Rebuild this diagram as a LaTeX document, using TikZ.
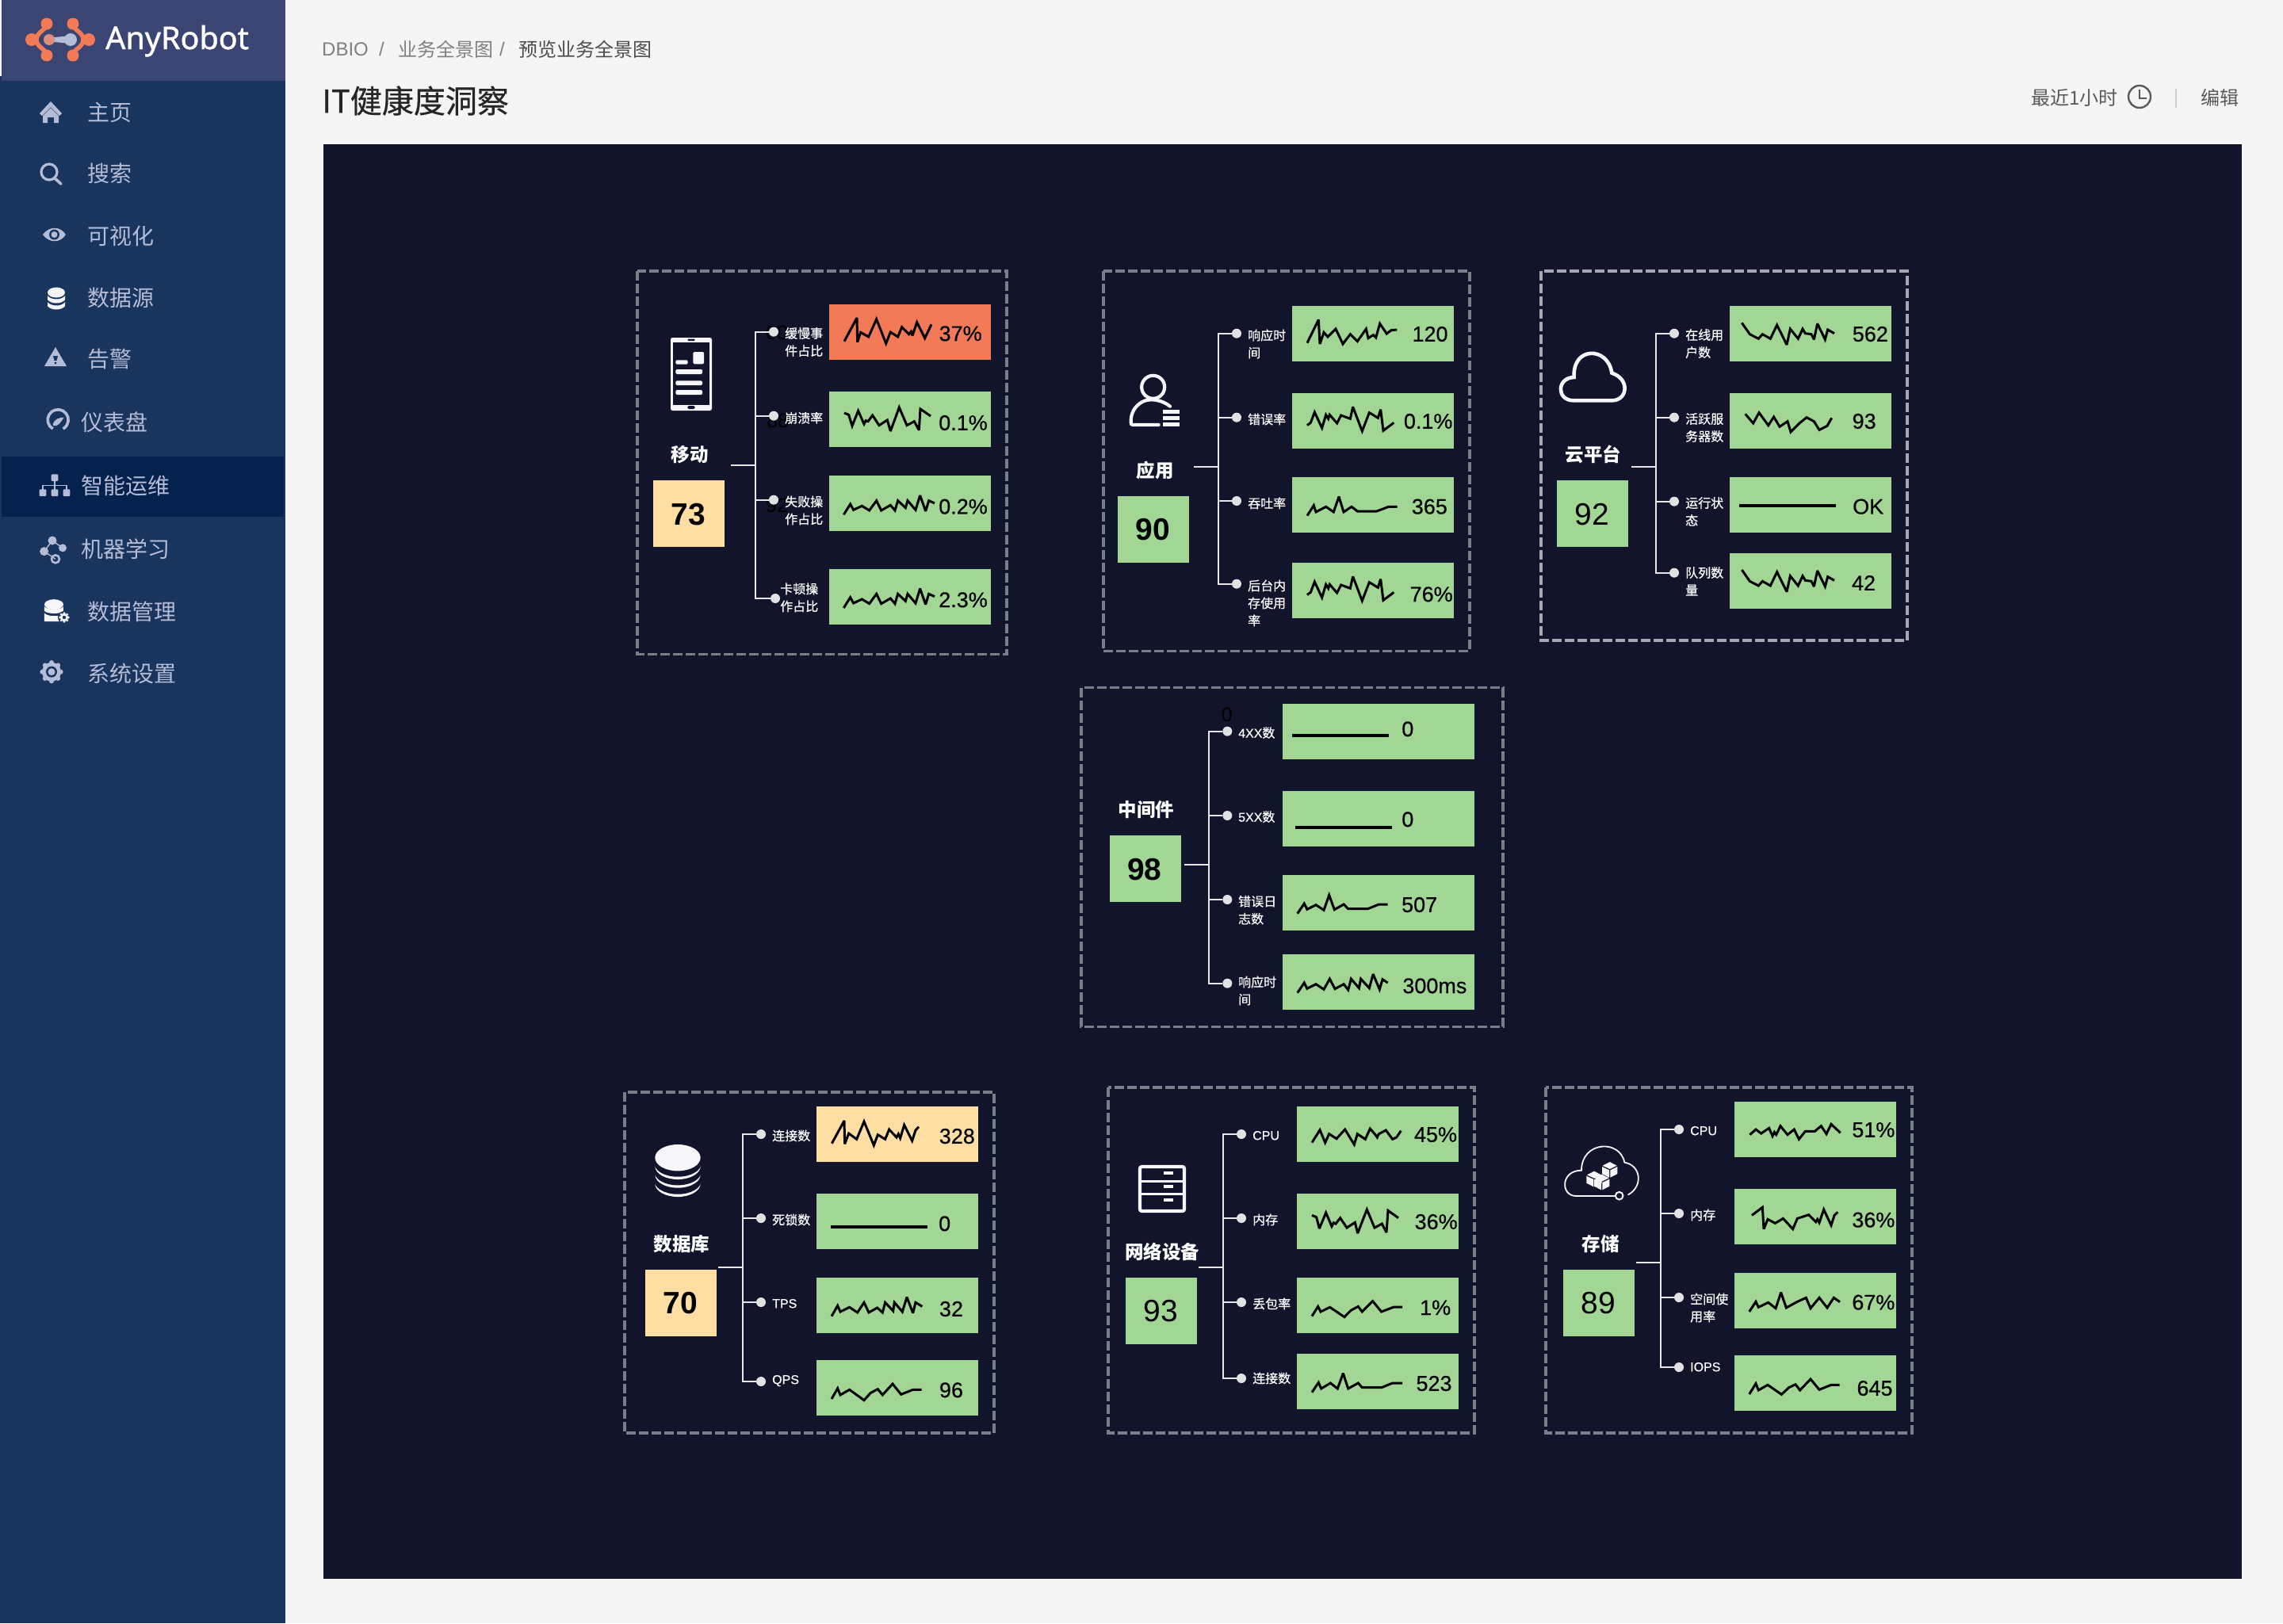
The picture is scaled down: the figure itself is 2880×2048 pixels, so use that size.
\documentclass[tikz,border=0pt]{standalone}
\usepackage{fontspec}
\setmainfont{Liberation Sans}
\newfontfamily\cjk{Noto Sans CJK SC}
\newfontfamily\cjkm[FakeBold=0.5]{Noto Sans CJK SC}
\newfontfamily\valfont[FakeBold=0.4]{Liberation Sans}
\newfontfamily\logofont[FakeBold=1.2]{Noto Sans}
\definecolor{pagebg}{HTML}{F5F5F5}
\definecolor{side}{HTML}{19345D}
\definecolor{sidehead}{HTML}{3A4573}
\definecolor{sideact}{HTML}{05214E}
\definecolor{sidetxt}{HTML}{B5BCD6}
\definecolor{panelbg}{HTML}{11142B}
\definecolor{cg}{HTML}{A2D695}
\definecolor{co}{HTML}{F27A56}
\definecolor{cy}{HTML}{FFDEA3}
\definecolor{dashc}{HTML}{7A7D8A}
\definecolor{dashl}{HTML}{A5A7B5}
\definecolor{dotc}{HTML}{E2E2E2}
\definecolor{treec}{HTML}{E8E8E8}
\definecolor{iconw}{HTML}{F6F6F8}
\tikzset{
  zoomed/.style={shift={(#1)},x=0.33333pt,y=-0.33333pt},
  dashbox/.style={draw=dashc,line width=3.4pt,dash pattern=on 12pt off 4pt},
  cellbox/.style={anchor=north west,inner sep=0pt,minimum height=70pt,text width=0pt},
  scorebox/.style={anchor=north west,inner sep=0pt,minimum width=90pt,minimum height=84pt},
  valtxt/.style={inner sep=0pt,yshift=-1.5pt,font=\fontsize{27}{27}\selectfont\valfont,text=black},
  scoretxt/.style={inner sep=0pt,yshift=-1pt,font=\fontsize{39}{39}\selectfont,text=black},
  ghost/.style={inner sep=0pt,font=\fontsize{25}{25}\selectfont,text=black},
  titletxt/.style={inner sep=0pt,text=white,font=\fontsize{23.5}{26}\selectfont\cjk\bfseries},
  lbl/.style={anchor=north west,inner sep=0pt,text=white,yshift=7pt,align=left,font=\fontsize{16}{22}\selectfont\cjkm},
  dotn/.style={circle,fill=dotc,inner sep=0pt,minimum size=12pt},
  tree/.style={draw=treec,line width=2pt},
  spk/.style={draw=black,line width=3pt,line join=miter,miter limit=3},
  flatspk/.style={draw=black,line width=3.6pt},
  sideitem/.style={anchor=west,inner sep=0pt,text=sidetxt,font=\fontsize{28}{30}\selectfont\cjk},
  crumb/.style={anchor=west,inner sep=0pt,font=\fontsize{24}{26}\selectfont\cjk},
  iconline/.style={draw=iconw,line width=4.2pt},
}
% #1 width, #2 id, #3 x, #4 y, #5 colour, #6 value, #7 vx, #8 vy
\newcommand\vcell[8][204pt]{%
  \node[cellbox,fill=#5,minimum width=#1] (#2) at (#3,#4) {};
  \node[valtxt] (#2v) at (#7,#8) {#6};}
\newcommand\score[7]{% id x y colour text cx cy
  \node[scorebox,fill=#4] (#1) at (#2,#3) {};
  \node[scoretxt] (#1v) at (#6,#7) {#5};}
\newcommand\leaf[4]{% id x y junction
  \node[dotn] (#1) at (#2,#3) {};
  \draw[tree] (#1) -| (#4);}
\newcommand\lab[4]{\node[lbl] (#1) at (#2,#3) {\rule{0pt}{13pt}#4};}
\newcommand\la[1]{{\valfont #1}}
\newcommand\spk[1]{\draw[spk] plot[sharp plot] coordinates {#1};}
\newcommand\flatline[2]{\draw[flatspk] (#1) -- (#2);}
\newcommand\stub[4]{% name stubx y trunkx
  \coordinate (#1s) at (#2,#3);
  \coordinate (#1) at (#4,#3);
  \draw[tree] (#1s) -- (#1);}
\newcommand\cube[2]{% cx cy, in zoomed units
  \fill[iconw] (#1,#2-27) -- (#1+27,#2-13) -- (#1,#2) -- (#1-27,#2-13) -- cycle;
  \fill[iconw] (#1-29,#2-9) -- (#1-2,#2+4) -- (#1-2,#2+32) -- (#1-29,#2+18) -- cycle;
  \fill[iconw] (#1+29,#2-9) -- (#1+2,#2+4) -- (#1+2,#2+32) -- (#1+29,#2+18) -- cycle;}
\begin{document}
\begin{tikzpicture}[x=1pt,y=-1pt]
\useasboundingbox (0,0) rectangle (2880,2048);
\fill[pagebg] (0,0) rectangle (2880,2048);
% sidebar
\fill[side] (0,96) rectangle (360,2048);
\fill[sidehead] (2,0) rectangle (360,102);
\fill[sideact] (2,576) rectangle (358,652);
% logo
\draw[co,line width=5.5pt] (59,30) .. controls (59,38) and (46,40) .. (46,50) .. controls (46,60) and (59,62) .. (59,70);
\draw[co,line width=5.5pt] (92,30) .. controls (92,38) and (105,40) .. (105,50) .. controls (105,60) and (92,62) .. (92,70);
\foreach \px/\py/\pr in {59/30/7.5,40/50/8,59/70/7.5,92/30/7.5,112/50/8,92/70/7.5} \fill[co] (\px,\py) circle (\pr pt);
\fill[sidetxt] (64,47.5) -- (84,45.5) -- (84,54.5) -- (64,52.5) -- cycle;
\fill[co!70!sidetxt] (62,50) circle (7pt);
\fill[sidetxt] (89,50) circle (8pt);
\node[anchor=base west,inner sep=0pt,text=white,font=\fontsize{39.5}{40}\selectfont\logofont] (logotxt) at (133,62) {AnyRobot};
% sidebar items
\node[sideitem] (m1) at (110,142) {主页};
\node[sideitem] (m2) at (110,219) {搜索};
\node[sideitem] (m3) at (110,298) {可视化};
\node[sideitem] (m4) at (110,376) {数据源};
\node[sideitem] (m5) at (110,453) {告警};
\node[sideitem] (m6) at (102,533) {仪表盘};
\node[sideitem] (m7) at (102,613) {智能运维};
\node[sideitem] (m8) at (102,693) {机器学习};
\node[sideitem] (m9) at (110,772) {数据管理};
\node[sideitem] (m10) at (110,850) {系统设置};
% sidebar icons
\fill[sidetxt] (64,128) -- (78,143) -- (75,146) -- (64,135) -- (53,146) -- (50,143) -- cycle;
\fill[sidetxt] (54,146) -- (64,136) -- (74,146) -- (74,155) -- (68,155) -- (68,148) -- (60,148) -- (60,155) -- (54,155) -- cycle;
\draw[sidetxt,line width=3.2pt] (62,217) circle (10pt);
\draw[sidetxt,line width=3.6pt,line cap=round] (69,225) -- (77,232);
\fill[sidetxt] (54,296) .. controls (62,285) and (76,285) .. (83,296) .. controls (76,307) and (62,307) .. (54,296) -- cycle;
\fill[side] (68.5,296) circle (6.5pt);
\fill[sidetxt] (68.5,296) circle (4pt);
\fill[iconw] (71,369) ellipse (11pt and 6.5pt);
\fill[iconw] (60,373) .. controls (64,379) and (78,379) .. (82,373) -- (82,378) .. controls (78,384) and (64,384) .. (60,378) -- cycle;
\fill[iconw] (60,381) .. controls (64,387) and (78,387) .. (82,381) -- (82,386) .. controls (78,392) and (64,392) .. (60,386) -- cycle;
\fill[sidetxt] (70,438) -- (84,462) -- (56,462) -- cycle;
\fill[side] (67,449) -- (73,449) -- (71.5,455) -- (68.5,455) -- cycle;
\fill[side] (70,458) circle (1.6pt);
\begin{scope}[zoomed={0,480}]
\draw[sidetxt,line width=3.6pt] (200,183) arc[start angle=120,end angle=420,radius=39];
\fill[sidetxt] (200,168) .. controls (205,145) and (225,140) .. (242,140) .. controls (235,150) and (228,165) .. (212,172) .. controls (205,173) and (200,170) .. (200,168) -- cycle;
% org chart
\draw[sidetxt,line width=1.6pt] (207,368) -- (207,425) (162,425) -- (162,397) -- (252,397) -- (252,425);
\foreach \qx/\qy in {207/368,162/425,207/425,252/425}
  \fill[sidetxt,rounded corners=1pt] (\qx-13,\qy-13) rectangle (\qx+13,\qy+13);
% ml
\draw[sidetxt,line width=1.4pt] (198,606) -- (237,634) (198,606) -- (167,647) -- (210,676);
\fill[sidetxt] (198,606) circle (5.5pt);
\fill[sidetxt] (237,634) circle (5pt);
\fill[sidetxt] (167,647) circle (5.5pt);
\draw[sidetxt,line width=2.6pt] (210,676) circle (5pt);
% data mgmt
\fill[iconw] (204,848) ellipse (12pt and 6.5pt);
\fill[iconw] (168,855) .. controls (175,870) and (235,870) .. (240,855) -- (240,872) .. controls (235,885) and (175,885) .. (168,872) -- cycle;
\fill[iconw] (168,880) .. controls (175,893) and (215,893) .. (228,890) -- (225,912) -- (168,912) -- cycle;
\fill[side] (243,897) circle (8pt);
\foreach \a in {0,45,...,315} \fill[iconw] (243,897) ++(\a:16) circle (1.6pt);
\fill[iconw] (243,897) circle (5.2pt);
\fill[side] (243,897) circle (2.2pt);
% gear
\foreach \a in {0,45,...,315} \fill[sidetxt] (195,1103) ++(\a:35) circle (3pt);
\fill[sidetxt] (195,1103) circle (12pt);
\fill[side] (195,1103) circle (7pt);
\fill[sidetxt] (195,1103) circle (4.5pt);
\end{scope}
% header
\node[crumb,text=black!50,font=\fontsize{24}{26}\selectfont] (c0) at (406,62) {DBIO};
\node[crumb,text=black!50,font=\fontsize{24}{26}\selectfont] (c1) at (478,62) {/};
\node[crumb,text=black!50] (c2) at (502,62) {业务全景图};
\node[crumb,text=black!50,font=\fontsize{24}{26}\selectfont] (c3) at (630,62) {/};
\node[crumb,text=black!70] (c4) at (654,62) {预览业务全景图};
\node[crumb,text=black!85,font=\fontsize{40}{44}\selectfont\cjkm] (ttl) at (406,127) {IT健康度洞察};
\node[crumb,text=black!65] (t1) at (2562,123) {最近1小时};
\draw[black!65,line width=2.4pt] (2699,122) circle (14pt);
\draw[black!65,line width=2.2pt] (2699,113) -- (2699,124) -- (2708,124);
\draw[blue!20!black!20,line width=1.2pt] (2745,112) -- (2745,136);
\node[crumb,text=black!65] (t2) at (2776,123) {编辑};
% main panel
\fill[panelbg] (408,182) rectangle (2828,1992);

% ---------- 移动
\begin{scope}[zoomed={780,320}]
\draw[dashbox] (72,66) rectangle (1470,1516);
\fill[iconw,rounded corners=2.5pt] (198,318) rectangle (354,594);
\fill[panelbg] (208,336) rectangle (344,572);
\fill[panelbg,rounded corners=1pt] (262,323) rectangle (290,330);
\fill[panelbg,rounded corners=1.5pt] (262,576) rectangle (290,588);
\fill[iconw,rounded corners=1.5pt] (283,372) rectangle (324,418);
\foreach \ya/\xb/\yb in {403/263/419,438/318/456,481/318/498,516/318/534}
  \fill[iconw,rounded corners=1.5pt] (217,\ya) rectangle (\xb,\yb);
\node[titletxt] (mobt) at (270,760) {移动};
\score{mobs}{132}{858}{cy}{\textbf{73}}{265}{985}
\stub{mobj}{426}{800}{518}
\node[ghost] (mobg1) at (600,300) {00};
\node[ghost] (mobg2) at (603,632) {88};
\node[ghost] (mobg3) at (600,955) {92};
\leaf{mob1}{588}{296}{mobj}
\leaf{mob2}{588}{614}{mobj}
\leaf{mob3}{588}{932}{mobj}
\leaf{mob4}{594}{1305}{mobj}
\lab{mobl1}{630}{300}{缓慢事\\件占比}
\lab{mobl2}{630}{620}{崩溃率}
\lab{mobl3}{630}{937}{失败操\\作占比}
\lab{mobl4}{612}{1267}{卡顿操\\作占比}
\vcell{mobc1}{798}{192}{co}{37\%}{1295}{298}
\vcell{mobc2}{798}{522}{cg}{0.1\%}{1305}{636}
\vcell{mobc3}{798}{840}{cg}{0.2\%}{1305}{953}
\vcell{mobc4}{798}{1194}{cg}{2.3\%}{1305}{1306}
\spk{(855,332)(903,243)(905,335)(917,298)(947,315)(977,248)(1013,340)(1030,297)(1058,315)(1073,278)(1100,305)(1108,295)(1113,310)(1130,260)(1160,320)(1185,268)}
\spk{(855,603)(872,610)(885,652)(908,595)(930,645)(937,632)(945,635)(962,612)(987,650)(1018,630)(1030,672)(1063,582)(1092,650)(1120,635)(1138,668)(1143,588)(1182,615)}
\spk{(853,988)(878,948)(890,970)(922,955)(950,972)(977,935)(995,972)(1030,952)(1047,972)(1058,935)(1087,962)(1095,935)(1125,970)(1142,915)(1163,975)(1175,935)(1197,945)}
\spk{(853,1341)(878,1301)(890,1323)(922,1308)(950,1325)(977,1288)(995,1325)(1030,1305)(1047,1325)(1058,1288)(1087,1315)(1095,1288)(1125,1323)(1142,1268)(1163,1328)(1175,1288)(1197,1298)}
\end{scope}

% ---------- 应用
\begin{scope}[zoomed={1370,320}]
\draw[dashbox] (66,66) rectangle (1452,1505);
\draw[iconline] (254,505) circle (14.5pt);
\draw[iconline,line cap=round] (318,578) .. controls (290,555) and (245,545) .. (215,560) .. controls (185,575) and (168,605) .. (170,640) .. controls (170,645) and (172,648) .. (178,648) -- (275,648);
\foreach \ya in {590,614,638} \fill[iconw] (292,\ya) rectangle (354,\ya+15);
\node[titletxt] (appt) at (262,820) {应用};
\score{apps}{120}{918}{cg}{\textbf{90}}{252}{1042}
\stub{appj}{408}{806}{500}
\leaf{app1}{570}{302}{appj}
\leaf{app2}{570}{620}{appj}
\leaf{app3}{570}{936}{appj}
\leaf{app4}{570}{1250}{appj}
\lab{appl1}{612}{307}{响应时\\间}
\lab{appl2}{612}{625}{错误率}
\lab{appl3}{612}{943}{吞吐率}
\lab{appl4}{612}{1255}{后台内\\存使用\\率}
\vcell{appc1}{780}{198}{cg}{120}{1302}{300}
\vcell{appc2}{780}{528}{cg}{0.1\%}{1295}{630}
\vcell{appc3}{780}{846}{cg}{365}{1300}{953}
\vcell{appc4}{780}{1170}{cg}{76\%}{1307}{1285}
\spk{(837,338)(880,250)(885,342)(900,298)(915,315)(945,285)(972,342)(1000,305)(1027,332)(1060,285)(1068,320)(1087,308)(1097,318)(1112,265)(1138,303)(1155,290)(1177,288)}
\spk{(837,650)(850,640)(865,600)(893,660)(908,610)(917,625)(922,610)(950,642)(965,612)(1000,625)(1010,580)(1045,672)(1072,602)(1105,622)(1115,590)(1125,670)(1165,640)}
\spk{(837,992)(862,953)(870,978)(908,958)(937,978)(957,920)(975,978)(1005,958)(1027,975)(1100,975)(1145,958)(1178,958)}
\spk{(837,1292)(850,1282)(865,1242)(893,1302)(908,1252)(917,1267)(922,1252)(950,1284)(965,1254)(1000,1267)(1010,1222)(1045,1314)(1072,1244)(1105,1264)(1115,1232)(1125,1312)(1165,1282)}
\end{scope}

% ---------- 云平台
\begin{scope}[zoomed={1920,320}]
\draw[dashbox,draw=dashl] (72,66) rectangle (1458,1464);
\draw[iconline,line width=4.6pt] (195,556) .. controls (130,556) and (130,470) .. (197,468) .. controls (190,350) and (325,350) .. (340,452) .. controls (410,475) and (400,556) .. (340,556) -- cycle;
\node[titletxt] (clot) at (270,760) {云平台};
\score{clos}{132}{858}{cg}{92}{264}{985}
\stub{cloj}{414}{806}{508}
\leaf{clo1}{576}{302}{cloj}
\leaf{clo2}{576}{620}{cloj}
\leaf{clo3}{576}{938}{cloj}
\leaf{clo4}{576}{1208}{cloj}
\lab{clol1}{618}{306}{在线用\\户数}
\lab{clol2}{618}{624}{活跃服\\务器数}
\lab{clol3}{618}{942}{运行状\\态}
\lab{clol4}{618}{1206}{队列数\\量}
\vcell{cloc1}{786}{198}{cg}{562}{1318}{300}
\vcell{cloc2}{786}{528}{cg}{93}{1295}{630}
\vcell{cloc3}{786}{846}{cg}{OK}{1310}{953}
\vcell{cloc4}{786}{1134}{cg}{42}{1293}{1242}
\spk{(832,262)(862,305)(895,322)(910,305)(940,322)(965,270)(1002,345)(1015,285)(1045,322)(1062,285)(1072,302)(1095,305)(1105,325)(1118,265)(1147,325)(1157,288)(1182,302)}
\spk{(845,607)(875,642)(897,602)(932,650)(953,618)(975,655)(1005,635)(1017,675)(1050,642)(1077,620)(1105,635)(1125,667)(1155,652)(1172,622)}
\flatline{822,954}{1188,954}
\spk{(832,1197)(862,1240)(895,1257)(910,1240)(940,1257)(965,1205)(1002,1280)(1015,1220)(1045,1257)(1062,1220)(1072,1237)(1095,1240)(1105,1260)(1118,1200)(1147,1260)(1157,1223)(1182,1237)}
\end{scope}

% ---------- 中间件
\begin{scope}[shift={(1340,850)},x=0.36996pt,y=-0.33333pt]
\draw[dashbox] (65,53) rectangle (1503,1337);
\node[titletxt] (mwt) at (287,515) {中间件};
\score{mws}{162}{612}{cg}{\textbf{98}}{281}{738}
\stub{mwj}{415}{722}{499}
\node[ghost] (mwg) at (562,157) {0};
\leaf{mw1}{563}{218}{mwj}
\leaf{mw2}{563}{537}{mwj}
\leaf{mw3}{563}{855}{mwj}
\leaf{mw4}{563}{1172}{mwj}
\lab{mwl1}{600}{222}{\la{4XX}数}
\lab{mwl2}{600}{540}{\la{5XX}数}
\lab{mwl3}{600}{860}{错误日\\志数}
\lab{mwl4}{600}{1165}{响应时\\间}
\vcell[242pt]{mwc1}{752}{114}{cg}{0}{1178}{205}
\vcell[242pt]{mwc2}{752}{444}{cg}{0}{1178}{547}
\vcell[242pt]{mwc3}{752}{762}{cg}{507}{1218}{870}
\vcell[242pt]{mwc4}{752}{1062}{cg}{300ms}{1270}{1177}
\flatline{784,234}{1114,234}
\flatline{795,582}{1125,582}
\spk{(802,908)(825,870)(835,892)(865,875)(892,895)(910,838)(928,893)(960,873)(975,890)(1042,890)(1080,873)(1110,873)}
\spk{(802,1208)(825,1170)(835,1192)(865,1175)(892,1195)(912,1155)(930,1193)(960,1175)(975,1197)(985,1155)(1012,1190)(1018,1155)(1047,1190)(1060,1137)(1082,1195)(1092,1157)(1110,1170)}
\end{scope}

% ---------- 数据库
\begin{scope}[zoomed={770,1360}]
\draw[dashbox] (54,54) rectangle (1452,1344);
\foreach \yc in {400,366,334} {
  \fill[iconw] (255,\yc) ellipse (28.7pt and 16.7pt);
  \fill[panelbg] (255,\yc-10) ellipse (29.5pt and 16.7pt);
}
\fill[iconw] (255,302) ellipse (28.7pt and 16.7pt);
\node[titletxt] (dbt) at (270,628) {数据库};
\score{dbs}{132}{726}{cy}{\textbf{70}}{264}{850}
\stub{dbj}{408}{717}{500}
\leaf{db1}{570}{213}{dbj}
\leaf{db2}{570}{531}{dbj}
\leaf{db3}{570}{849}{dbj}
\leaf{db4}{570}{1149}{dbj}
\lab{dbl1}{612}{217}{连接数}
\lab{dbl2}{612}{535}{死锁数}
\lab{dbl3}{612}{852}{\la{TPS}}
\lab{dbl4}{612}{1140}{\la{QPS}}
\vcell{dbc1}{780}{108}{cy}{328}{1312}{216}
\vcell{dbc2}{780}{438}{cg}{0}{1265}{547}
\vcell{dbc3}{780}{756}{cg}{32}{1290}{870}
\vcell{dbc4}{780}{1068}{cg}{96}{1290}{1177}
\spk{(838,248)(885,162)(887,250)(902,210)(932,232)(960,165)(997,255)(1012,215)(1040,232)(1055,195)(1083,225)(1090,212)(1097,228)(1112,178)(1142,238)(1155,198)(1167,185)}
\flatline{834,564}{1200,564}
\spk{(837,902)(860,862)(870,885)(905,868)(935,888)(960,850)(978,888)(1010,870)(1030,888)(1040,850)(1070,882)(1075,850)(1105,885)(1122,830)(1145,890)(1155,850)(1180,865)}
\spk{(837,1215)(860,1175)(870,1200)(905,1180)(960,1220)(985,1192)(1012,1178)(1030,1200)(1068,1158)(1100,1198)(1145,1180)(1178,1180)}
\end{scope}

% ---------- 网络设备
\begin{scope}[zoomed={1380,1360}]
\draw[dashbox] (54,36) rectangle (1440,1344);
\draw[iconline,rounded corners=2.5pt] (174,336) rectangle (342,504);
\draw[iconw,line width=3pt] (174,392) -- (342,392) (174,440) -- (342,440);
\foreach \ya in {355,405,455} \fill[iconw] (265,\ya) rectangle (300,\ya+12);
\node[titletxt] (nett) at (258,658) {网络设备};
\score{nets}{120}{756}{cg}{93}{252}{880}
\stub{netj}{396}{717}{488}
\leaf{net1}{558}{213}{netj}
\leaf{net2}{558}{531}{netj}
\leaf{net3}{558}{849}{netj}
\leaf{net4}{558}{1137}{netj}
\lab{netl1}{600}{216}{\la{CPU}}
\lab{netl2}{600}{535}{内存}
\lab{netl3}{600}{853}{丢包率}
\lab{netl4}{600}{1135}{连接数}
\vcell{netc1}{768}{108}{cg}{45\%}{1293}{210}
\vcell{netc2}{768}{438}{cg}{36\%}{1295}{540}
\vcell{netc3}{768}{756}{cg}{1\%}{1292}{865}
\vcell{netc4}{768}{1044}{cg}{523}{1287}{1152}
\spk{(825,245)(855,197)(875,245)(890,212)(918,230)(950,195)(985,252)(997,212)(1027,232)(1045,192)(1065,215)(1072,225)(1078,212)(1105,198)(1130,232)(1145,225)(1162,200)}
\spk{(825,520)(842,527)(853,570)(878,510)(900,562)(907,548)(915,552)(932,530)(957,567)(988,547)(998,588)(1033,498)(1062,567)(1090,552)(1107,585)(1113,502)(1152,530)}
\spk{(825,902)(848,865)(858,885)(893,868)(948,905)(972,880)(1000,865)(1015,885)(1055,845)(1088,885)(1135,867)(1167,867)}
\spk{(825,1190)(850,1153)(860,1176)(895,1155)(922,1176)(943,1118)(962,1176)(1000,1155)(1015,1172)(1088,1172)(1130,1155)(1167,1155)}
\end{scope}

% ---------- 存储
\begin{scope}[zoomed={1930,1360}]
\draw[dashbox] (60,36) rectangle (1446,1344);
\draw[iconw,line width=1.8pt,line cap=round] (320,447) -- (175,447) .. controls (115,447) and (115,350) .. (195,350) .. controls (195,240) and (340,230) .. (358,320) .. controls (420,330) and (430,410) .. (372,442);
\draw[iconw,line width=2pt] (338,446) circle (4.8pt);
\cube{302}{345}
\cube{243}{380}
\cube{272}{392}
\node[titletxt] (stot) at (268,628) {存储};
\score{stos}{126}{726}{cg}{89}{258}{850}
\stub{stoj}{402}{699}{494}
\leaf{sto1}{564}{195}{stoj}
\leaf{sto2}{564}{513}{stoj}
\leaf{sto3}{564}{831}{stoj}
\leaf{sto4}{564}{1095}{stoj}
\lab{stol1}{606}{198}{\la{CPU}}
\lab{stol2}{606}{517}{内存}
\lab{stol3}{606}{835}{空间使\\用率}
\lab{stol4}{606}{1092}{\la{IOPS}}
\vcell{stoc1}{774}{90}{cg}{51\%}{1300}{192}
\vcell{stoc2}{774}{420}{cg}{36\%}{1300}{533}
\vcell{stoc3}{774}{738}{cg}{67\%}{1300}{845}
\vcell{stoc4}{774}{1050}{cg}{645}{1305}{1170}
\spk{(832,215)(855,195)(875,210)(905,190)(918,220)(925,205)(932,215)(948,182)(975,215)(1000,195)(1018,232)(1042,202)(1078,202)(1102,182)(1122,212)(1140,175)(1175,208)}
\spk{(840,520)(880,490)(885,572)(900,535)(928,550)(958,532)(995,572)(1012,532)(1055,518)(1082,545)(1088,535)(1095,548)(1112,498)(1140,558)(1152,520)(1165,508)}
\spk{(830,885)(855,847)(865,868)(902,850)(930,872)(950,812)(970,870)(1010,848)(1045,832)(1062,872)(1095,832)(1125,870)(1150,832)(1173,848)}
\spk{(830,1197)(855,1157)(865,1182)(900,1162)(952,1198)(980,1172)(1005,1160)(1022,1182)(1062,1140)(1095,1180)(1140,1162)(1172,1162)}
\end{scope}
\end{tikzpicture}
\end{document}
